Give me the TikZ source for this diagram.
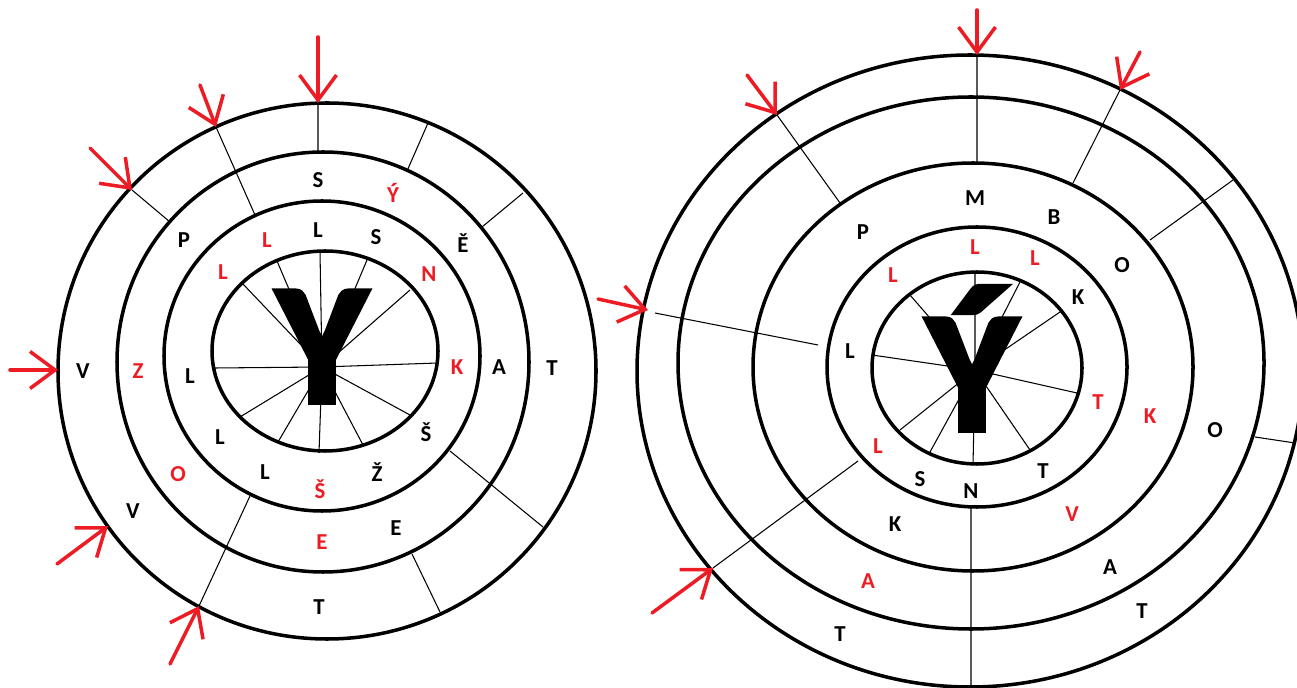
\documentclass[tikz,border=0pt]{standalone}
\usepackage{fontspec}
\setmainfont{Carlito}
\newfontfamily\glyphfont[BoldFeatures={FakeBold=3.5}]{Carlito}
\usepackage{xcolor}
\usetikzlibrary{arrows.meta}
\definecolor{paintred}{RGB}{237,28,36}
\tikzset{
  ring/.style={draw=black, line width=2pt},
  spoke/.style={draw=black, line width=0.6pt},
  letter/.style={inner sep=0pt, font=\fontsize{13}{13}\selectfont\bfseries},
  redletter/.style={letter, text=paintred},
  bigletter/.style={inner sep=0pt, anchor=base,
                    font=\glyphfont\fontsize{97}{97}\selectfont\bfseries},
  pointer/.style={-{Straight Barb[length=5mm, width=7.4mm]},
                  draw=paintred, line width=2pt, line cap=round},
}

\begin{document}
\begin{tikzpicture}[x=0.02cm, y=-0.02cm]
  \useasboundingbox (0,0) rectangle (1297,688);

  % --- Left wheel: rings ---
  \draw[ring] (325,351) ellipse [x radius=113, y radius=100];
  \draw[ring] (322,356) ellipse [x radius=158, y radius=155];
  \draw[ring] (323,362) ellipse [x radius=206, y radius=210];
  \draw[ring] (327,371) ellipse [x radius=269, y radius=268];

  % --- Left wheel: spokes ---
  \coordinate (lc) at (322,367);
  \draw[spoke] (lc) -- (320,252) (lc) -- (367,260) (lc) -- (410,290)
               (lc) -- (438,363) (lc) -- (410,415) (lc) -- (363,445)
               (lc) -- (319,453) (lc) -- (278,442) (lc) -- (240,417)
               (lc) -- (215,368) (lc) -- (242,283) (lc) -- (277,261);
  \draw[spoke] (318,103) -- (318,153)  (216,127) -- (255,215)
               (132,190) -- (170,222)  (428,123) -- (407,171)
               (523,193) -- (482,227)  (199,606) -- (250,496)
               (450,451) -- (543,527)  (412,554) -- (440,612);

  \node[bigletter] (ly) at (322,402) {Y};

  % --- Left wheel: inner band ---
  \node[letter]    (la1)  at (318,230) {L};
  \node[letter]    (la2)  at (376,237) {S};
  \node[redletter] (la3)  at (429,274) {N};
  \node[redletter] (la4)  at (457,367) {K};
  \node[letter]    (la5)  at (426,432) {Š};
  \node[letter]    (la6)  at (377,472) {Ž};
  \node[redletter] (la7)  at (320,489) {Š};
  \node[letter]    (la8)  at (265,472) {L};
  \node[letter]    (la9)  at (220,437) {L};
  \node[letter]    (la10) at (190,376) {L};
  \node[redletter] (la11) at (223,272) {L};
  \node[redletter] (la12) at (267,240) {L};

  % --- Left wheel: middle band ---
  \node[letter]    (lb1) at (318,180) {S};
  \node[redletter] (lb2) at (393,193) {Ý};
  \node[letter]    (lb3) at (463,243) {Ě};
  \node[letter]    (lb4) at (499,367) {A};
  \node[letter]    (lb5) at (396,528) {E};
  \node[redletter] (lb6) at (322,542) {E};
  \node[redletter] (lb7) at (178,474) {O};
  \node[redletter] (lb8) at (138,371) {Z};
  \node[letter]    (lb9) at (184,240) {P};

  % --- Left wheel: outer band ---
  \node[letter] (lc1) at (552,368) {T};
  \node[letter] (lc2) at (319,607) {T};
  \node[letter] (lc3) at (133,511) {V};
  \node[letter] (lc4) at (83,371)  {V};

  % --- Left wheel: arrows ---
  \coordinate (lt1) at (318,37);  \coordinate (lp1) at (318,103);
  \coordinate (lt2) at (200,85);  \coordinate (lp2) at (216,127);
  \coordinate (lt3) at (90,148);  \coordinate (lp3) at (132,190);
  \coordinate (lt4) at (10,370);  \coordinate (lp4) at (58,370);
  \coordinate (lt5) at (57,564);  \coordinate (lp5) at (108,526);
  \coordinate (lt6) at (170,664); \coordinate (lp6) at (199,606);
  \draw[pointer] (lt1) -- (lp1);
  \draw[pointer] (lt2) -- (lp2);
  \draw[pointer] (lt3) -- (lp3);
  \draw[pointer] (lt4) -- (lp4);
  \draw[pointer] (lt5) -- (lp5);
  \draw[pointer] (lt6) -- (lp6);

  % --- Right wheel: rings ---
  \draw[ring] (977,368) ellipse [x radius=105, y radius=96];
  \draw[ring] (977,367) ellipse [x radius=150, y radius=140];
  \draw[ring] (973,367) ellipse [x radius=220, y radius=204];
  \draw[ring] (971,363) ellipse [x radius=293, y radius=266];
  \draw[ring] (970,371) ellipse [x radius=333, y radius=316];

  % --- Right wheel: spokes ---
  \coordinate (rc) at (975,370);
  \draw[spoke] (rc) -- (975,272) (rc) -- (1020,282) (rc) -- (1060,312)
               (rc) -- (1077,393) (rc) -- (1030,450) (rc) -- (973,465)
               (rc) -- (930,452) (rc) -- (900,430) (rc) -- (872,355)
               (rc) -- (910,295);
  \draw[spoke] (977,55) -- (977,163)    (971,507) -- (971,688)
               (1120,90) -- (1073,183)  (1233,180) -- (1150,240)
               (777,115) -- (840,203)   (655,313) -- (818,345)
               (713,568) -- (858,461)   (1255,437) -- (1295,443);

  \node[bigletter] (ry) at (972,430) {Ý};

  % --- Right wheel: inner band ---
  \node[redletter] (ra1)  at (975,247)  {L};
  \node[redletter] (ra2)  at (1035,258) {L};
  \node[letter]    (ra3)  at (1078,297) {K};
  \node[redletter] (ra4)  at (1098,402) {T};
  \node[letter]    (ra5)  at (1043,471) {T};
  \node[letter]    (ra6)  at (971,491)  {N};
  \node[letter]    (ra7)  at (920,479)  {S};
  \node[redletter] (ra8)  at (878,446)  {L};
  \node[letter]    (ra9)  at (850,351)  {L};
  \node[redletter] (ra10) at (893,275)  {L};

  % --- Right wheel: second band ---
  \node[letter]    (rb1) at (975,198)  {M};
  \node[letter]    (rb2) at (1054,217) {B};
  \node[letter]    (rb3) at (1122,265) {O};
  \node[redletter] (rb4) at (1150,416) {K};
  \node[redletter] (rb5) at (1072,514) {V};
  \node[letter]    (rb6) at (895,524)  {K};
  \node[letter]    (rb7) at (863,232)  {P};

  % --- Right wheel: outer bands ---
  \node[letter]    (rc1) at (1215,430) {O};
  \node[letter]    (rc2) at (1110,567) {A};
  \node[redletter] (rc3) at (868,581)  {A};
  \node[letter]    (rd1) at (1142,611) {T};
  \node[letter]    (rd2) at (840,634)  {T};

  % --- Right wheel: arrows ---
  \coordinate (rt1) at (977,10);   \coordinate (rp1) at (977,55);
  \coordinate (rt2) at (1140,52);  \coordinate (rp2) at (1120,90);
  \coordinate (rt3) at (747,75);   \coordinate (rp3) at (777,115);
  \coordinate (rt4) at (598,299);  \coordinate (rp4) at (648,310);
  \coordinate (rt5) at (652,613);  \coordinate (rp5) at (713,568);
  \draw[pointer] (rt1) -- (rp1);
  \draw[pointer] (rt2) -- (rp2);
  \draw[pointer] (rt3) -- (rp3);
  \draw[pointer] (rt4) -- (rp4);
  \draw[pointer] (rt5) -- (rp5);
\end{tikzpicture}
\end{document}
